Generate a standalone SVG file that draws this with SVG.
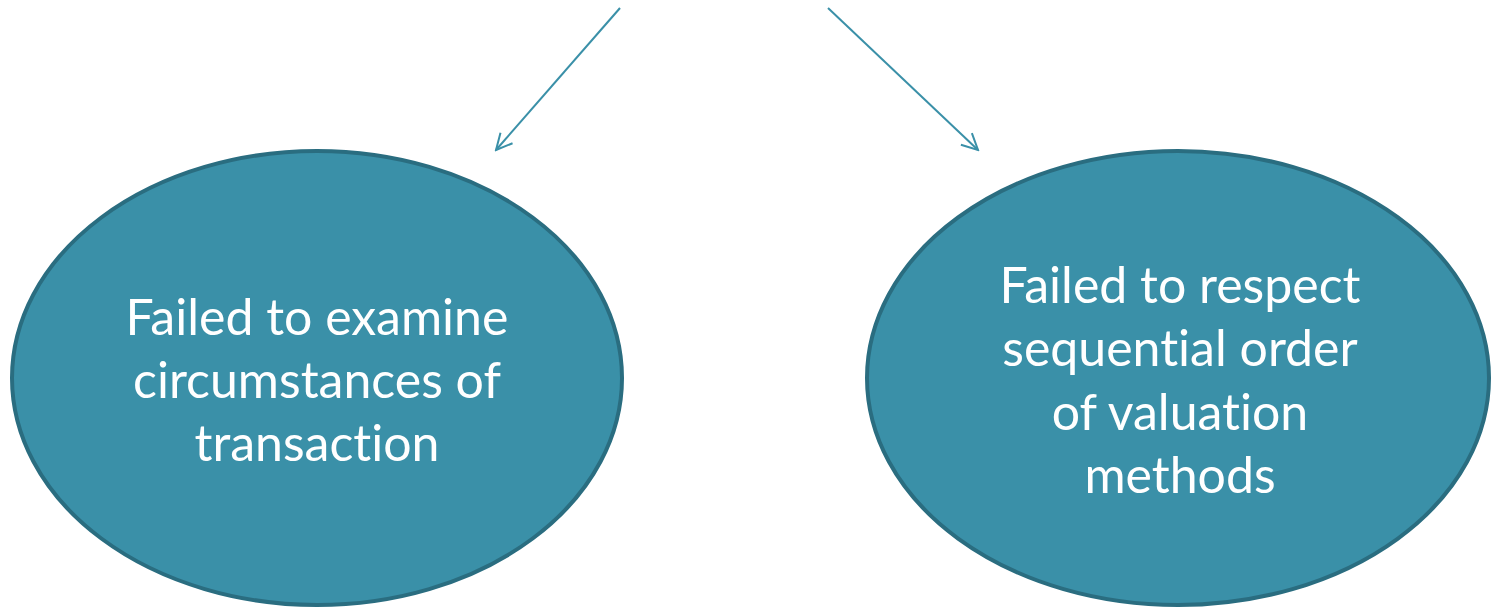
<svg xmlns="http://www.w3.org/2000/svg" width="1491" height="607" viewBox="0 0 1491 607">
<style>
.node{fill:#3a90a8;stroke:#2a6d80;stroke-width:4}
.lbl{fill:#ffffff;font-family:Lato,"Open Sans","Liberation Sans",sans-serif;font-size:50px;text-anchor:middle;font-variant-ligatures:none}
.conn{stroke:#3a90a8;stroke-width:2;fill:none}
</style>
<defs>
<marker id="arr" viewBox="0 0 20 20" refX="18" refY="10" markerWidth="20" markerHeight="20" markerUnits="userSpaceOnUse" orient="auto">
<path d="M2,2 L18,10 L2,18" fill="none" stroke="#3a90a8" stroke-width="2"/>
</marker>
</defs>
<rect width="1491" height="607" fill="#ffffff"/>
<g id="connectors">
<line class="conn" x1="620" y1="8" x2="496" y2="150" marker-end="url(#arr)"/>
<line class="conn" x1="828" y1="8" x2="978" y2="150" marker-end="url(#arr)"/>
</g>
<g id="node-left">
<ellipse class="node" cx="317" cy="378" rx="305" ry="227"/>
<text class="lbl" x="317" y="335">Failed to examine</text>
<text class="lbl" x="317" y="398">circumstances of</text>
<text class="lbl" x="317" y="461">transaction</text>
</g>
<g id="node-right">
<ellipse class="node" cx="1178" cy="378" rx="311" ry="227"/>
<text class="lbl" x="1180" y="303">Failed to respect</text>
<text class="lbl" x="1180" y="366">sequential order</text>
<text class="lbl" x="1180" y="430">of valuation</text>
<text class="lbl" x="1180" y="493">methods</text>
</g>
</svg>
